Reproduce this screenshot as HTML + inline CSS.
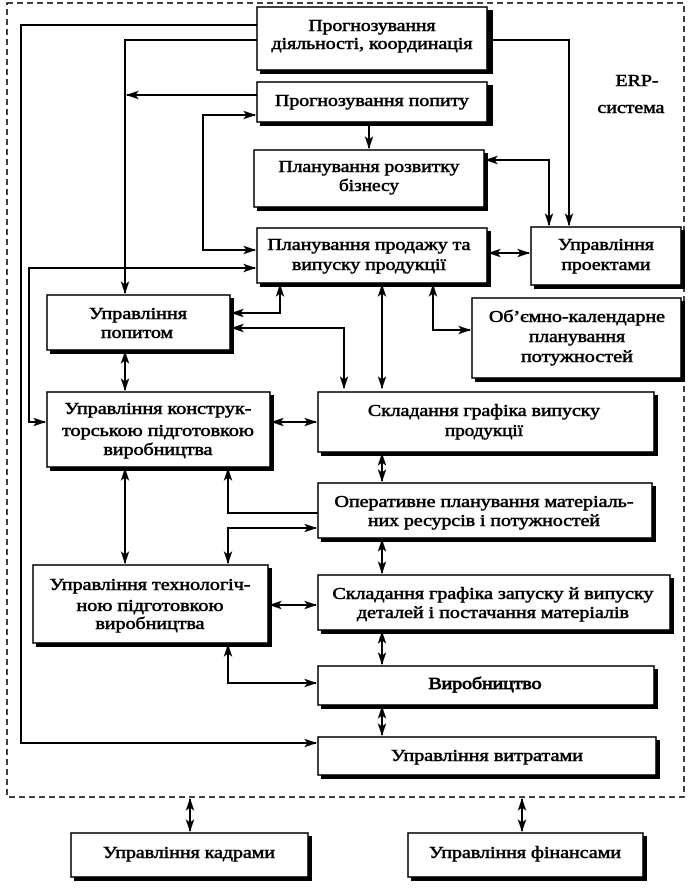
<!DOCTYPE html>
<html><head><meta charset="utf-8"><style>
html,body{margin:0;padding:0;background:#fff;}
svg{display:block;}
text{font-family:"Liberation Serif","DejaVu Serif",serif;font-size:17px;fill:#000;stroke:#000;stroke-width:0.55;text-anchor:middle;}
</style></head><body>
<svg width="692" height="891" viewBox="0 0 692 891" xmlns="http://www.w3.org/2000/svg">
<defs>
<marker id="a" viewBox="0 0 12 8" refX="11" refY="4" markerWidth="13" markerHeight="9" markerUnits="userSpaceOnUse" orient="auto-start-reverse">
<path d="M0,0 L12,4 L0,8 L3,4 z" fill="#000"/>
</marker>
</defs>
<rect x="7" y="3" width="677" height="794" fill="none" stroke="#000" stroke-width="1.5" stroke-dasharray="6,4"/>

<g fill="none" stroke="#000" stroke-width="2">
<polyline points="257,25 21,25 21,743 316,743" marker-end="url(#a)"/>
<polyline points="257,40 125,40 125,293" marker-end="url(#a)"/>
<line x1="257" y1="95" x2="127" y2="95" marker-end="url(#a)"/>
<polyline points="255,115 203,115 203,250 255,250" marker-start="url(#a)" marker-end="url(#a)"/>
<line x1="369" y1="122" x2="369" y2="148" marker-end="url(#a)"/>
<polyline points="487,40 569,40 569,225" marker-end="url(#a)"/>
<polyline points="486,160 549,160 549,225" marker-start="url(#a)" marker-end="url(#a)"/>
<line x1="489" y1="253" x2="529" y2="253" marker-start="url(#a)" marker-end="url(#a)"/>
<polyline points="255,268 29,268 29,422 45,422" marker-start="url(#a)" marker-end="url(#a)"/>
<polyline points="232,313 280,313 280,285" marker-start="url(#a)" marker-end="url(#a)"/>
<polyline points="232,328 344,328 344,388" marker-start="url(#a)" marker-end="url(#a)"/>
<line x1="382" y1="285" x2="382" y2="388" marker-start="url(#a)" marker-end="url(#a)"/>
<polyline points="433,285 433,330 470,330" marker-start="url(#a)" marker-end="url(#a)"/>
<line x1="125" y1="352" x2="125" y2="390" marker-start="url(#a)" marker-end="url(#a)"/>
<line x1="272" y1="422" x2="316" y2="422" marker-start="url(#a)" marker-end="url(#a)"/>
<line x1="382" y1="454" x2="382" y2="481" marker-start="url(#a)" marker-end="url(#a)"/>
<polyline points="318,513 228,513 228,469" marker-end="url(#a)"/>
<polyline points="316,528 228,528 228,563" marker-start="url(#a)" marker-end="url(#a)"/>
<line x1="125" y1="469" x2="125" y2="563" marker-start="url(#a)" marker-end="url(#a)"/>
<line x1="382" y1="540" x2="382" y2="573" marker-start="url(#a)" marker-end="url(#a)"/>
<line x1="270" y1="605" x2="316" y2="605" marker-start="url(#a)" marker-end="url(#a)"/>
<line x1="382" y1="632" x2="382" y2="664" marker-start="url(#a)" marker-end="url(#a)"/>
<polyline points="228,645 228,683 316,683" marker-start="url(#a)" marker-end="url(#a)"/>
<line x1="382" y1="707" x2="382" y2="735" marker-start="url(#a)" marker-end="url(#a)"/>
<line x1="190" y1="799" x2="190" y2="831" marker-start="url(#a)" marker-end="url(#a)"/>
<line x1="522" y1="799" x2="522" y2="831" marker-start="url(#a)" marker-end="url(#a)"/>
</g>

<g>
<g fill="#000">
<rect x="260" y="10" width="233" height="64"/>
<rect x="260" y="85" width="233" height="41"/>
<rect x="257" y="153" width="231" height="58"/>
<rect x="260" y="231" width="231" height="56"/>
<rect x="534" y="230" width="151" height="59"/>
<rect x="50" y="298" width="184" height="56"/>
<rect x="475" y="301" width="210" height="81"/>
<rect x="50" y="395" width="224" height="76"/>
<rect x="321" y="395" width="337" height="61"/>
<rect x="321" y="486" width="335" height="56"/>
<rect x="36" y="568" width="236" height="79"/>
<rect x="321" y="578" width="353" height="56"/>
<rect x="321" y="669" width="337" height="40"/>
<rect x="321" y="740" width="339" height="39"/>
<rect x="74" y="836" width="238" height="45"/>
<rect x="411" y="836" width="236" height="45"/>
</g>
<g fill="#fff" stroke="#000" stroke-width="1.5">
<rect x="257" y="7" width="230" height="63"/>
<rect x="257" y="82" width="230" height="40"/>
<rect x="254" y="150" width="230" height="57"/>
<rect x="257" y="228" width="230" height="55"/>
<rect x="531" y="227" width="150" height="58"/>
<rect x="47" y="295" width="183" height="55"/>
<rect x="472" y="298" width="209" height="80"/>
<rect x="47" y="392" width="223" height="75"/>
<rect x="318" y="392" width="336" height="60"/>
<rect x="318" y="483" width="334" height="55"/>
<rect x="33" y="565" width="235" height="78"/>
<rect x="318" y="575" width="352" height="55"/>
<rect x="318" y="666" width="336" height="39"/>
<rect x="318" y="737" width="338" height="38"/>
<rect x="71" y="833" width="237" height="44"/>
<rect x="408" y="833" width="235" height="44"/>
</g>
</g>

<text x="372" y="31" textLength="127" lengthAdjust="spacingAndGlyphs">Прогнозування</text>
<text x="372" y="49" textLength="201" lengthAdjust="spacingAndGlyphs">діяльності, координація</text>
<text x="372" y="106" textLength="194" lengthAdjust="spacingAndGlyphs">Прогнозування попиту</text>
<text x="369" y="172" textLength="181" lengthAdjust="spacingAndGlyphs">Планування розвитку</text>
<text x="369" y="191" textLength="60" lengthAdjust="spacingAndGlyphs">бізнесу</text>
<text x="369" y="250" textLength="203" lengthAdjust="spacingAndGlyphs">Планування продажу та</text>
<text x="369" y="270" textLength="154" lengthAdjust="spacingAndGlyphs">випуску продукції</text>
<text x="606" y="250" textLength="96" lengthAdjust="spacingAndGlyphs">Управління</text>
<text x="606" y="270" textLength="89" lengthAdjust="spacingAndGlyphs">проектами</text>
<text x="637" y="86" textLength="43" lengthAdjust="spacingAndGlyphs">ERP-</text>
<text x="631" y="113" textLength="67" lengthAdjust="spacingAndGlyphs">система</text>
<text x="138" y="319" textLength="98" lengthAdjust="spacingAndGlyphs">Управління</text>
<text x="137" y="338" textLength="72" lengthAdjust="spacingAndGlyphs">попитом</text>
<text x="577" y="322" textLength="176" lengthAdjust="spacingAndGlyphs">Об’ємно-календарне</text>
<text x="577" y="342" textLength="96" lengthAdjust="spacingAndGlyphs">планування</text>
<text x="577" y="362" textLength="112" lengthAdjust="spacingAndGlyphs">потужностей</text>
<text x="158" y="414" textLength="187" lengthAdjust="spacingAndGlyphs">Управління конструк-</text>
<text x="158" y="436" textLength="192" lengthAdjust="spacingAndGlyphs">торською підготовкою</text>
<text x="158" y="455" textLength="109" lengthAdjust="spacingAndGlyphs">виробництва</text>
<text x="484" y="416" textLength="232" lengthAdjust="spacingAndGlyphs">Складання графіка випуску</text>
<text x="484" y="436" textLength="78" lengthAdjust="spacingAndGlyphs">продукції</text>
<text x="484" y="507" textLength="299" lengthAdjust="spacingAndGlyphs">Оперативне планування матеріаль-</text>
<text x="484" y="526" textLength="232" lengthAdjust="spacingAndGlyphs">них ресурсів і потужностей</text>
<text x="150" y="590" textLength="201" lengthAdjust="spacingAndGlyphs">Управління технологіч-</text>
<text x="150" y="611" textLength="147" lengthAdjust="spacingAndGlyphs">ною підготовкою</text>
<text x="150" y="629" textLength="109" lengthAdjust="spacingAndGlyphs">виробництва</text>
<text x="493" y="599" textLength="321" lengthAdjust="spacingAndGlyphs">Складання графіка запуску й випуску</text>
<text x="493" y="618" textLength="272" lengthAdjust="spacingAndGlyphs">деталей і постачання матеріалів</text>
<text x="485" y="689" textLength="113" lengthAdjust="spacingAndGlyphs" style="stroke-width:0.8">Виробництво</text>
<text x="487" y="761" textLength="192" lengthAdjust="spacingAndGlyphs">Управління витратами</text>
<text x="189" y="858" textLength="172" lengthAdjust="spacingAndGlyphs">Управління кадрами</text>
<text x="525" y="858" textLength="192" lengthAdjust="spacingAndGlyphs">Управління фінансами</text>
</svg>
</body></html>
